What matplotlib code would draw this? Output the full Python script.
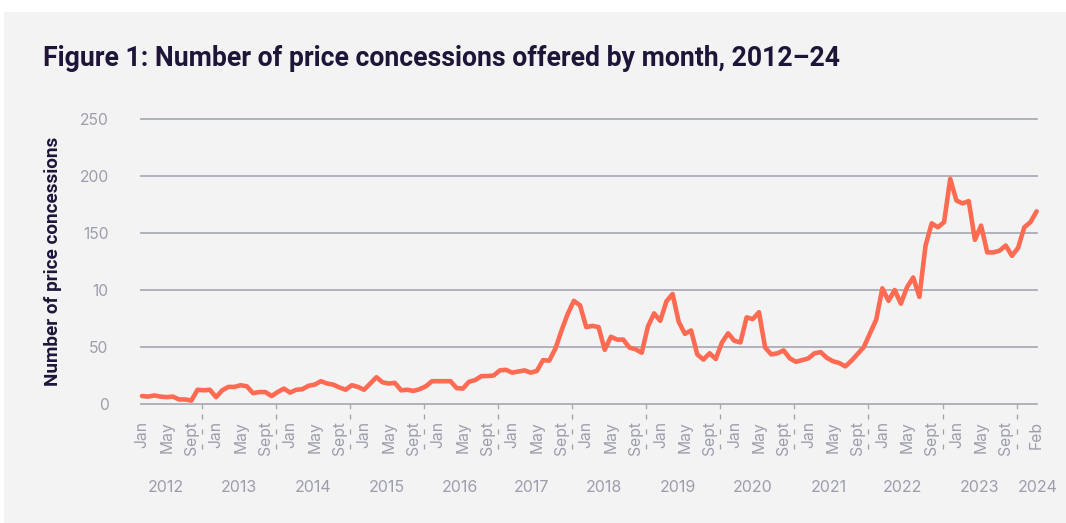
import matplotlib
matplotlib.use("Agg")
import matplotlib.pyplot as plt
import matplotlib.transforms as mtransforms
from matplotlib.patches import Rectangle

# ---------------- data ----------------
years = list(range(2012, 2025))
month_labels = ["Jan", "May", "Sept"]
last_label = "Feb"
y_ticks = [0, 50, 100, 150, 200, 250]
y_tick_labels = ["0", "50", "10", "150", "200", "250"]

# monthly counts, Jan 2012 .. Feb 2024 (146 values)
concessions = [
    7, 6.5, 7.5, 6.5, 6, 6.5, 4, 4, 3, 12.5, 12, 12.5,            # 2012
    6, 12, 15, 15, 16.5, 15.5, 9.5, 10.5, 10.5, 7, 10.5, 13.5,     # 2013
    10, 12.5, 13, 16, 17, 20, 18, 17, 14.5, 12.5, 16.5, 15,        # 2014
    12.5, 18, 23.5, 19, 18, 18.5, 12, 12.5, 11.5, 13, 15.5, 20,    # 2015
    20, 20, 20, 14, 13.5, 19.5, 21, 24.5, 24.5, 25, 29.5, 30,      # 2016
    27.5, 28.5, 29.5, 27.5, 29, 38.5, 38, 48.5, 64.5, 79, 90.5, 86.5,   # 2017
    67.5, 68.5, 67.5, 47.5, 59, 56.5, 56.5, 49.5, 48, 45, 68, 79.5,     # 2018
    73, 90, 96.5, 72, 61.5, 64.5, 43.5, 39, 44.5, 39.5, 54, 62,         # 2019
    55.5, 54, 76, 74.5, 80.5, 49.5, 43.5, 44.5, 47, 40, 37, 38.5,       # 2020
    40, 44.5, 45.5, 40.5, 37.5, 36, 33, 38, 44, 50, 62, 74,             # 2021
    101.5, 90.5, 100, 88, 102.5, 111, 94, 139, 158.5, 155, 159.5, 197.5,  # 2022
    178.5, 176, 178, 144, 156.5, 133, 133, 134.5, 139, 130, 137, 155,     # 2023
    159.5, 169,                                                           # 2024
]

# ---------------- style ----------------
W, H = 1066, 523
BG = "#f3f3f3"
LINE = "#ff6a52"
GRID = "#a9abb7"
TICK = "#9c9eac"
DARK = "#1e1538"

fig = plt.figure(figsize=(W / 100, H / 100), dpi=100)
fig.patch.set_facecolor("white")
fig.patches.append(Rectangle((4 / W, 0), 1 - 4 / W, (H - 12) / H,
                             transform=fig.transFigure, facecolor=BG,
                             edgecolor="none", zorder=-10))

ax_left, ax_right = 142, 1036.6
ax_top, ax_bottom = 119, 404
ax = fig.add_axes([ax_left / W, (H - ax_bottom) / H,
                   (ax_right - ax_left) / W, (ax_bottom - ax_top) / H])
ax.set_facecolor("none")

n = len(concessions)
xs = list(range(n))
ax.plot(xs, concessions, color=LINE, lw=3.3, solid_joinstyle="round",
        solid_capstyle="round", zorder=3, clip_on=False)

ax.set_xlim(0, n - 1)
ax.set_ylim(0, 250)

for s in ax.spines.values():
    s.set_visible(False)

# gridlines (including baseline)
for yv in y_ticks:
    ax.plot([-0.15, n - 1 + 0.1], [yv, yv], color=GRID, lw=1.3, zorder=1,
            clip_on=False)

ax.set_yticks(y_ticks)
ax.set_yticklabels(y_tick_labels, fontsize=11.3, color=TICK, family="Inter")
ax.tick_params(axis="y", length=0, pad=24)

# x month labels
tick_pos = []
tick_lab = []
for k in range(len(years) - 1):
    for m, lab in zip([0, 4, 8], month_labels):
        tick_pos.append(12 * k + m)
        tick_lab.append(lab)
tick_pos.append(n - 1)
tick_lab.append(last_label)
ax.set_xticks(tick_pos)
ax.set_xticklabels(tick_lab, rotation=90, fontsize=11.3, color=TICK,
                   family="Inter", va="top", ha="center")
ax.tick_params(axis="x", length=0, pad=12)

# separators between years
trans = mtransforms.blended_transform_factory(ax.transData, ax.transAxes)
ph = ax_bottom - ax_top
for k in range(len(years) - 1):
    sx = 12 * k + 9.75
    ax.plot([sx, sx], [0, -4 / ph], color=GRID, lw=1.0, transform=trans,
            clip_on=False)
    ax.plot([sx, sx], [-10 / ph, -54 / ph], color=TICK, lw=0.9,
            transform=trans, clip_on=False, dashes=(4, 8))

# year labels
year_label_x = [3.8, 15.7, 27.7, 39.7, 51.5, 63.2, 74.9, 86.8, 99.0, 111.3,
                123.3, 135.8, 145.2]
for yr, xp in zip(years, year_label_x):
    ax.text(xp, -(488 - ax_bottom) / ph, str(yr), transform=trans,
            ha="center", va="center", fontsize=11.5, color=TICK,
            family="Inter")

# y axis label, fitted to reference length
ylab = fig.text(53.5 / W, (H - 261) / H, "Number of price concessions",
                rotation=90, ha="center", va="center", fontsize=12,
                fontweight="bold", color=DARK, family="Roboto")

# title, fitted to reference width
title = fig.text(43 / W, (H - 66) / H,
                 "Figure 1: Number of price concessions offered by month, 2012\u201324",
                 ha="left", va="baseline", fontsize=16, fontweight="bold",
                 color=DARK, family="Roboto")
fig.canvas.draw()
bb = title.get_window_extent()
title.set_fontsize(16 * 800 / bb.width)
bb2 = ylab.get_window_extent()
ylab.set_fontsize(12 * 248 / bb2.height)

fig.savefig("out.png", dpi=100, facecolor=fig.get_facecolor())
